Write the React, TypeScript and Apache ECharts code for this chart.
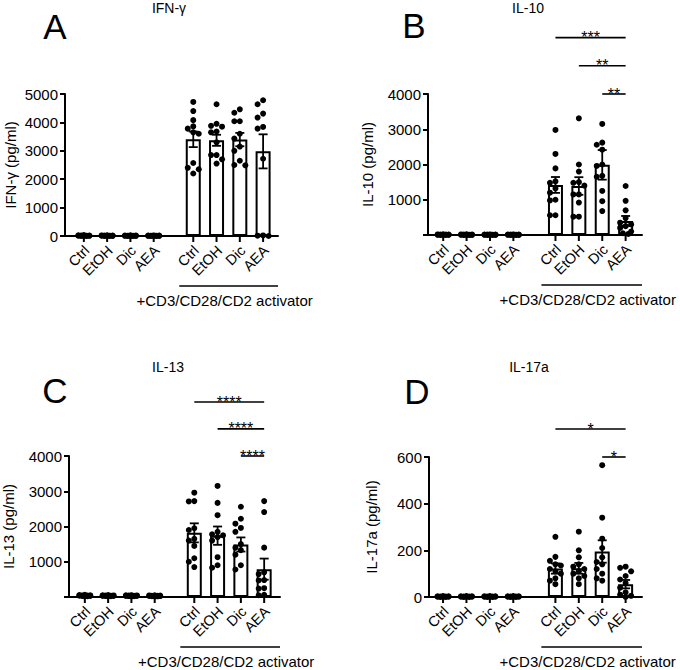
import React, { useEffect, useRef } from "react";
import * as echarts from "echarts";

const groupLabels = ["Ctrl", "EtOH", "Dic", "AEA", "Ctrl", "EtOH", "Dic", "AEA"];
const activatorText = "+CD3/CD28/CD2 activator";

// IFN-γ (pg/ml)
const ifngMean = [12, 10, 9, 8, 3405, 3370, 3395, 2980];
const ifngSem = [3, 3, 2, 2, 275, 195, 235, 600];
const ifngDots = [
  [30, 22, 18, 15, 12, 10, 8, 6, 4, 2, 0],
  [25, 20, 16, 14, 12, 10, 8, 5, 3, 1, 0],
  [22, 18, 15, 12, 10, 9, 7, 5, 3, 1, 0],
  [20, 16, 14, 12, 10, 8, 6, 4, 2, 1, 0],
  [4720, 4400, 4080, 3860, 3780, 3650, 3600, 2570, 2400, 2350, 2200],
  [4640, 3950, 3880, 3850, 3680, 3650, 3300, 2850, 2850, 2700, 2550],
  [4460, 4340, 4040, 4040, 3600, 3430, 3150, 3000, 2650, 2500, 2490],
  [4780, 4640, 4310, 4170, 3840, 3780, 2720, 20, 10, 0],
];

// IL-10 (pg/ml)
const il10Mean = [10, 9, 8, 8, 1420, 1390, 1990, 400];
const il10Sem = [2, 2, 2, 2, 225, 250, 420, 140];
const il10Dots = [
  [20, 16, 14, 12, 10, 8, 6, 4, 2, 1, 0],
  [18, 15, 12, 10, 9, 8, 6, 4, 2, 1, 0],
  [16, 14, 12, 10, 8, 7, 5, 3, 2, 1, 0],
  [16, 14, 12, 10, 8, 7, 5, 3, 2, 1, 0],
  [2980, 2300, 1890, 1520, 1480, 1320, 1200, 1000, 980, 560, 560],
  [3310, 2000, 1800, 1500, 1480, 1400, 1150, 1150, 920, 520, 520],
  [3150, 2620, 2560, 2420, 2000, 1960, 1680, 1650, 1250, 960, 680],
  [1390, 970, 700, 480, 350, 300, 250, 200, 100, 50, 30],
];
const il10SigFrom = [4, 5, 6];
const il10SigLevel = [5600, 4800, 4000];
const il10SigText = ["***", "**", "**"];

// IL-13 (pg/ml)
const il13Mean = [40, 36, 34, 30, 1820, 1740, 1490, 790];
const il13Sem = [4, 3, 3, 3, 270, 260, 200, 300];
const il13Dots = [
  [60, 55, 50, 45, 40, 38, 35, 30, 28, 25, 20],
  [55, 50, 45, 40, 38, 35, 32, 30, 28, 25, 20],
  [52, 48, 44, 40, 36, 34, 32, 30, 26, 24, 20],
  [48, 44, 40, 36, 32, 30, 28, 26, 24, 20, 18],
  [2960, 2720, 2710, 1950, 1900, 1650, 1600, 1450, 1100, 1000, 850],
  [3150, 2670, 2320, 1850, 1780, 1750, 1700, 1600, 1130, 900, 830],
  [2560, 2220, 2080, 1960, 1850, 1500, 1400, 1330, 1200, 900, 780],
  [2720, 2410, 1400, 700, 650, 480, 470, 250, 240, 60, 50],
];
const il13SigFrom = [4, 5, 6];
const il13SigLevel = [5530, 4770, 4000];
const il13SigText = ["****", "****", "****"];

// IL-17a (pg/ml)
const il17Mean = [2, 2, 2, 2, 122, 123, 195, 55];
const il17Sem = [0.5, 0.5, 0.5, 0.5, 22, 23, 48, 18];
const il17Dots = [
  [4, 3, 3, 2, 2, 2, 1, 1, 1, 0, 0],
  [4, 3, 3, 2, 2, 2, 1, 1, 1, 0, 0],
  [4, 3, 3, 2, 2, 2, 1, 1, 1, 0, 0],
  [4, 3, 3, 2, 2, 2, 1, 1, 1, 0, 0],
  [258, 172, 155, 140, 135, 120, 110, 100, 80, 70, 55],
  [280, 200, 170, 140, 130, 120, 110, 100, 90, 80, 55],
  [565, 340, 250, 210, 170, 150, 140, 120, 100, 80, 70],
  [130, 125, 110, 90, 75, 60, 40, 20, 10, 5, 0],
];
const il17SigFrom = [4, 6];
const il17SigLevel = [720, 600];
const il17SigText = ["*", "*"];

const FONT = "'Liberation Sans', Arial, sans-serif";
const leftPos = [0, 1, 2, 3, 4.7, 5.7, 6.7, 7.7];
const rightPos = [0, 1, 2, 3, 4.8, 5.8, 6.8, 7.8];

type Panel = {
  grid: { left: number; top: number; width: number; height: number };
  xMin: number;
  xMax: number;
  pos: number[];
  yMax: number;
  yInterval: number;
  hideZero: boolean;
  yName: string;
  nameGap: number;
  title: string;
  titleXY: [number, number];
  letter: string;
  letterXY: [number, number];
  mean: number[];
  sem: number[];
  dots: number[][];
  sigFrom: number[];
  sigLevel: number[];
  sigText: string[];
};

const panels: Panel[] = [
  {
    grid: { left: 65, top: 94, width: 213, height: 142 },
    xMin: -0.81, xMax: 8.34, pos: leftPos,
    yMax: 5000, yInterval: 1000, hideZero: false,
    yName: "IFN-γ (pg/ml)", nameGap: 47,
    title: "IFN-γ", titleXY: [169, 8], letter: "A", letterXY: [55, 26],
    mean: ifngMean, sem: ifngSem, dots: ifngDots,
    sigFrom: [], sigLevel: [], sigText: [],
  },
  {
    grid: { left: 428, top: 94, width: 214, height: 141 },
    xMin: -0.65, xMax: 8.5, pos: rightPos,
    yMax: 4000, yInterval: 1000, hideZero: true,
    yName: "IL-10 (pg/ml)", nameGap: 53,
    title: "IL-10", titleXY: [528, 8], letter: "B", letterXY: [414, 25],
    mean: il10Mean, sem: il10Sem, dots: il10Dots,
    sigFrom: il10SigFrom, sigLevel: il10SigLevel, sigText: il10SigText,
  },
  {
    grid: { left: 68, top: 456, width: 212, height: 141 },
    xMin: -0.68, xMax: 8.38, pos: leftPos,
    yMax: 4000, yInterval: 1000, hideZero: true,
    yName: "IL-13 (pg/ml)", nameGap: 53,
    title: "IL-13", titleXY: [168, 367], letter: "C", letterXY: [55, 390],
    mean: il13Mean, sem: il13Sem, dots: il13Dots,
    sigFrom: il13SigFrom, sigLevel: il13SigLevel, sigText: il13SigText,
  },
  {
    grid: { left: 429, top: 457, width: 213, height: 140 },
    xMin: -0.6, xMax: 8.5, pos: rightPos,
    yMax: 600, yInterval: 200, hideZero: false,
    yName: "IL-17a (pg/ml)", nameGap: 50,
    title: "IL-17a", titleXY: [529, 367], letter: "D", letterXY: [417, 391],
    mean: il17Mean, sem: il17Sem, dots: il17Dots,
    sigFrom: il17SigFrom, sigLevel: il17SigLevel, sigText: il17SigText,
  },
];

// spread close values sideways like a column scatter (offsets in axis units)
function swarmOffsets(values: number[], pxPerValue: number, pxPerUnit: number) {
  const step = 5.5;
  const minDist = 5.8;
  const slots = [0, -step, step, -step / 2, step / 2];
  const order = values.map((_, i) => i).sort((a, b) => values[b] - values[a]);
  const placed: { x: number; y: number }[] = [];
  const offs = new Array(values.length).fill(0);
  for (const i of order) {
    const y = values[i] * pxPerValue;
    let best = 0;
    let bestD = -1;
    for (let k = 0; k < slots.length; k++) {
      const s = slots[k];
      let d = Infinity;
      for (const p of placed) d = Math.min(d, Math.hypot(p.x - s, p.y - y));
      if (k < 3 && d >= minDist) {
        best = s;
        bestD = Infinity;
        break;
      }
      if (d > bestD) {
        bestD = d;
        best = s;
      }
    }
    placed.push({ x: best, y });
    offs[i] = best / pxPerUnit;
  }
  return offs;
}

const black = "#000";

function buildOption(): any {
  const grid: any[] = [];
  const xAxis: any[] = [];
  const yAxis: any[] = [];
  const series: any[] = [];
  const graphic: any[] = [];

  panels.forEach((p, k) => {
    grid.push({ ...p.grid });
    xAxis.push({
      gridIndex: k,
      type: "value",
      min: p.xMin,
      max: p.xMax,
      axisLine: { show: true, onZero: false, lineStyle: { color: black, width: 2 } },
      axisTick: { show: false },
      axisLabel: { show: false },
      splitLine: { show: false },
    });
    yAxis.push({
      gridIndex: k,
      type: "value",
      min: 0,
      max: p.yMax,
      interval: p.yInterval,
      name: p.yName,
      nameLocation: "middle",
      nameGap: p.nameGap,
      nameRotate: 90,
      nameTextStyle: { fontSize: 15, color: black, fontFamily: FONT },
      axisLine: { show: true, onZero: false, lineStyle: { color: black, width: 2 } },
      axisTick: { show: true, length: 5, lineStyle: { color: black, width: 2 } },
      axisLabel: {
        fontSize: 15,
        color: black,
        fontFamily: FONT,
        margin: 7,
        formatter: (v: number) => (p.hideZero && v === 0 ? "" : String(v)),
      },
      splitLine: { show: false },
    });

    const pxPerValue = p.grid.height / p.yMax;
    const pxPerUnit = p.grid.width / (p.xMax - p.xMin);
    const dotData: number[][] = [];
    p.dots.forEach((vals, g) => {
      const offs = swarmOffsets(vals, pxPerValue, pxPerUnit);
      vals.forEach((v, i) => dotData.push([p.pos[g] + offs[i], v]));
    });

    series.push({
      type: "bar",
      xAxisIndex: k,
      yAxisIndex: k,
      barWidth: 15,
      z: 2,
      silent: true,
      itemStyle: { color: "#fff", borderColor: black, borderWidth: 2 },
      data: p.pos.map((x, i) => [x, p.mean[i]]),
    });
    series.push({
      type: "scatter",
      xAxisIndex: k,
      yAxisIndex: k,
      symbol: "circle",
      symbolSize: 6,
      z: 3,
      silent: true,
      itemStyle: { color: black, opacity: 1 },
      data: dotData,
    });
    series.push({
      type: "custom",
      xAxisIndex: k,
      yAxisIndex: k,
      z: 4,
      clip: false,
      silent: true,
      data: p.pos.map((x, i) => [x, p.mean[i], p.sem[i]]),
      renderItem: (_params: any, api: any) => {
        const x = api.value(0);
        const m = api.value(1);
        const s = api.value(2);
        const top = api.coord([x, m + s]);
        const bot = api.coord([x, Math.max(0, m - s)]);
        const hw = 4.5;
        const st = { stroke: black, lineWidth: 1.8 };
        return {
          type: "group",
          children: [
            { type: "line", shape: { x1: top[0], y1: top[1], x2: bot[0], y2: bot[1] }, style: st },
            { type: "line", shape: { x1: top[0] - hw, y1: top[1], x2: top[0] + hw, y2: top[1] }, style: st },
            { type: "line", shape: { x1: bot[0] - hw, y1: bot[1], x2: bot[0] + hw, y2: bot[1] }, style: st },
          ],
        };
      },
    });
    // category ticks and rotated labels
    series.push({
      type: "custom",
      xAxisIndex: k,
      yAxisIndex: k,
      z: 5,
      clip: false,
      silent: true,
      data: p.pos.map((x, i) => [x, 0, i]),
      renderItem: (params: any, api: any) => {
        const c = api.coord([api.value(0), 0]);
        return {
          type: "group",
          children: [
            { type: "line", shape: { x1: c[0], y1: c[1], x2: c[0], y2: c[1] + 6 }, style: { stroke: black, lineWidth: 2 } },
            {
              type: "text",
              x: c[0] + 3,
              y: c[1] + 12,
              rotation: Math.PI / 4,
              style: {
                text: groupLabels[params.dataIndex],
                fill: black,
                fontSize: 14.5,
                fontFamily: FONT,
                align: "right",
                verticalAlign: "middle",
              },
            },
          ],
        };
      },
    });
    // activator bracket
    series.push({
      type: "custom",
      xAxisIndex: k,
      yAxisIndex: k,
      z: 5,
      clip: false,
      silent: true,
      data: [[p.pos[4] - 0.6, p.xMax]],
      renderItem: (_params: any, api: any) => {
        const a = api.coord([api.value(0), 0]);
        const b = api.coord([api.value(1), 0]);
        return {
          type: "group",
          children: [
            { type: "line", shape: { x1: a[0], y1: a[1] + 50, x2: b[0], y2: b[1] + 50 }, style: { stroke: black, lineWidth: 1.6 } },
            {
              type: "text",
              x: (a[0] + b[0]) / 2 - 4,
              y: a[1] + 64,
              style: {
                text: activatorText,
                fill: black,
                fontSize: 15,
                fontFamily: FONT,
                align: "center",
                verticalAlign: "middle",
              },
            },
          ],
        };
      },
    });
    if (p.sigFrom.length) {
      series.push({
        type: "custom",
        xAxisIndex: k,
        yAxisIndex: k,
        z: 5,
        clip: false,
        silent: true,
        data: p.sigFrom.map((f, j) => [p.pos[f], p.sigLevel[j], p.pos[7], j]),
        renderItem: (params: any, api: any) => {
          const a = api.coord([api.value(0), api.value(1)]);
          const b = api.coord([api.value(2), api.value(1)]);
          return {
            type: "group",
            children: [
              { type: "line", shape: { x1: a[0], y1: a[1], x2: b[0], y2: b[1] }, style: { stroke: black, lineWidth: 1.6 } },
              {
                type: "text",
                x: (a[0] + b[0]) / 2,
                y: a[1],
                style: {
                  text: p.sigText[params.dataIndex],
                  fill: black,
                  fontSize: 16,
                  fontFamily: FONT,
                  align: "center",
                  verticalAlign: "middle",
                },
              },
            ],
          };
        },
      });
    }

    graphic.push({
      type: "text",
      x: p.titleXY[0],
      y: p.titleXY[1],
      style: { text: p.title, fill: black, fontSize: 14, fontFamily: FONT, align: "center", verticalAlign: "middle" },
    });
    graphic.push({
      type: "text",
      x: p.letterXY[0],
      y: p.letterXY[1],
      style: { text: p.letter, fill: black, fontSize: 35, fontFamily: FONT, align: "center", verticalAlign: "middle" },
    });
  });

  return {
    animation: false,
    backgroundColor: "#fff",
    textStyle: { fontFamily: FONT },
    grid,
    xAxis,
    yAxis,
    series,
    graphic,
  };
}

const App: React.FC = () => {
  const chartRef = useRef<HTMLDivElement>(null);

  useEffect(() => {
    if (!chartRef.current) return;
    const chart = echarts.init(chartRef.current, undefined, { renderer: "svg" });
    chart.setOption(buildOption());
    return () => {
      chart.dispose();
    };
  }, []);

  return (
    <div
      ref={chartRef}
      style={{ position: "absolute", left: 0, top: 0, width: 680, height: 670, background: "#fff" }}
    />
  );
};

export default App;
